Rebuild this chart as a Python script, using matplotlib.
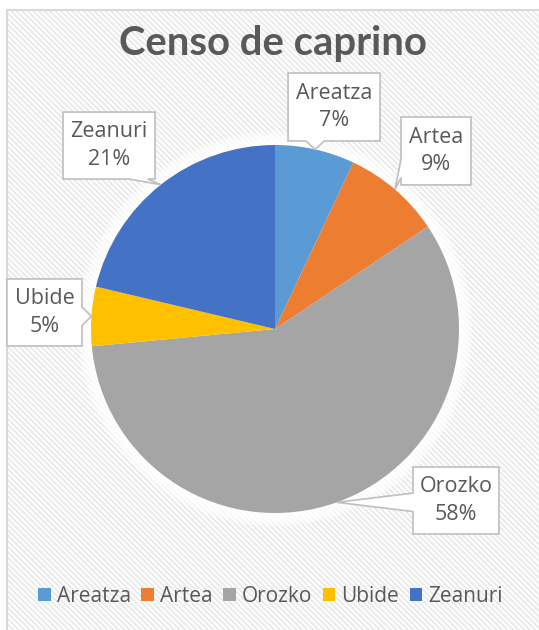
import numpy as np
import matplotlib.pyplot as plt
from matplotlib.patches import Rectangle, Polygon, Circle, Patch

plt.rcParams['font.family'] = ['Open Sans', 'DejaVu Sans']
plt.rcParams['hatch.linewidth'] = 1.3

municipios = ['Areatza', 'Artea', 'Orozko', 'Ubide', 'Zeanuri']
cabezas = [70, 86, 579, 52, 213]
colores = ['#5B9BD5', '#ED7D31', '#A5A5A5', '#FFC000', '#4472C4']

# cajas de las etiquetas (unidades del radio), lado del puntero
cajas = [(0.071, 1.022, 0.571, 1.391),
         (0.685, 0.783, 1.065, 1.152),
         (0.750, -1.114, 1.217, -0.750),
         (-1.457, -0.092, -1.049, 0.272),
         (-1.152, 0.815, -0.652, 1.179)]
lados = ['b', 'l', 'l', 'r', 'b']

gris = '#595959'
W, H = 539, 630
cx, cy, R = 275, 329, 184


def globo(x0, y0, x1, y1, tip, lado, hw=0.05, m=0.04):
    tx, ty = tip
    if lado == 'b':
        c = np.clip(tx, x0 + hw + m, x1 - hw - m)
        pts = [(x0, y1), (x1, y1), (x1, y0), (c + hw, y0), (tx, ty), (c - hw, y0), (x0, y0)]
    elif lado == 'l':
        c = np.clip(ty, y0 + hw + m, y1 - hw - m)
        pts = [(x0, y1), (x1, y1), (x1, y0), (x0, y0), (x0, c - hw), (tx, ty), (x0, c + hw)]
    else:
        c = np.clip(ty, y0 + hw + m, y1 - hw - m)
        pts = [(x0, y1), (x1, y1), (x1, c + hw), (tx, ty), (x1, c - hw), (x1, y0), (x0, y0)]
    return Polygon(pts, closed=True, facecolor='white', edgecolor='#bfbfbf', lw=1.2, zorder=5)


fig = plt.figure(figsize=(W / 100, H / 100), dpi=100)
fig.patch.set_facecolor('white')

# fondo rayado y borde del grafico
fig.add_artist(Rectangle((7 / W, 0), 1, (H - 10) / H, transform=fig.transFigure,
                         facecolor='white', edgecolor='#e9e9e9', hatch='\\\\\\\\\\\\', lw=0, zorder=-2))
fig.add_artist(Rectangle((7 / W, -0.1), 1.2, (H - 10) / H + 0.1, transform=fig.transFigure,
                         facecolor='none', edgecolor='#d9d9d9', lw=1.5, zorder=-1))

ax = fig.add_axes([0, 0, 1, 1])
ax.patch.set_alpha(0)

for k in range(6):
    ax.add_patch(Circle((0, 0), 1 + 0.012 * (k + 1), facecolor='white', edgecolor='none',
                        alpha=0.35, zorder=0))

wedges, _ = ax.pie(cabezas, colors=colores, startangle=90, counterclock=False,
                   radius=1, wedgeprops=dict(edgecolor='none', zorder=2))

total = sum(cabezas)
for w, nom, val, caja, lado in zip(wedges, municipios, cabezas, cajas, lados):
    ang = np.deg2rad((w.theta1 + w.theta2) / 2)
    tip = (np.cos(ang), np.sin(ang))
    ax.add_patch(globo(*caja, tip, lado))
    ax.text((caja[0] + caja[2]) / 2, (caja[1] + caja[3]) / 2,
            f'{nom}\n{round(100 * val / total)}%', ha='center', va='center',
            fontsize=15.5, color=gris, linespacing=1.4, zorder=6)

ax.set_xlim(-cx / R, (W - cx) / R)
ax.set_ylim((cy - H) / R, cy / R)
ax.set_aspect('auto')
ax.axis('off')

fig.text(0.507, 1 - 43 / H, 'Censo de caprino', ha='center', va='center',
         fontsize=28.8, fontweight='bold', color=gris, family=['Lato', 'DejaVu Sans'])

handles = [Patch(facecolor=c, edgecolor='none') for c in colores]
fig.legend(handles, municipios, loc='center', bbox_to_anchor=(0.502, 1 - 596 / H),
           ncol=5, frameon=False, fontsize=15, labelcolor=gris,
           handlelength=0.6, handleheight=0.6, handletextpad=0.3, columnspacing=0.5)

plt.savefig('out.png', dpi=100)
